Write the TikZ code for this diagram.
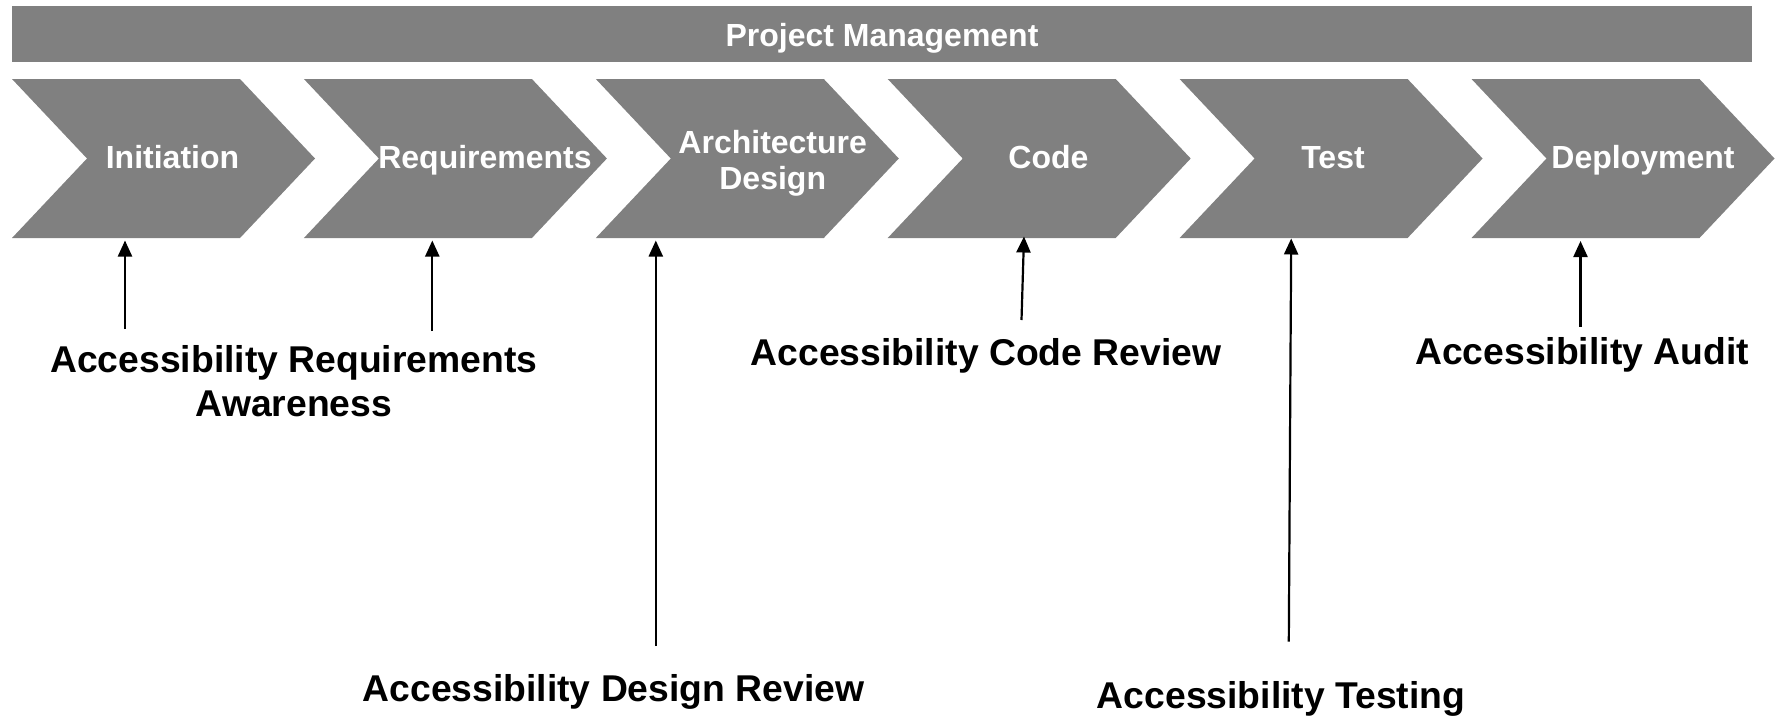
\documentclass[tikz,border=0pt]{standalone}
\usepackage{fontspec}
\setmainfont{Liberation Sans}
\usetikzlibrary{arrows.meta}
\definecolor{phasegrey}{HTML}{808080}
\begin{document}
\begin{tikzpicture}[x=1pt,y=-1pt,
  chev/.style={fill=phasegrey, draw=none},
  chevtext/.style={text=white, font=\fontsize{32}{36.3}\selectfont\bfseries, align=center, inner sep=0pt, anchor=base},
  lbl/.style={text=black, font=\fontsize{37.3}{44}\selectfont\bfseries, align=center, inner sep=0pt, anchor=base},
  pointer/.style={-{Triangle[length=16pt,width=14pt]}, line width=2.2pt, draw=black}]
\useasboundingbox (0,0) rectangle (1779,717);
% top bar
\fill[chev] (12,6) rectangle (1752,62);
\node[chevtext] (pm) at (882,46.7) {Project Management};
% chevrons
\foreach \i in {0,...,5}{
  \pgfmathsetmacro\L{12+291.9*\i}
  \fill[chev] (\L,79) -- ({\L+228},79) -- ({\L+303},158.5) -- ({\L+228},238) -- (\L,238) -- ({\L+75},158.5) -- cycle;
}
\node[chevtext] (init) at (172.5,168.3) {Initiation};
\node[chevtext] (req) at (485,168.3) {Requirements};
\node[chevtext] (arch) at (772.7,189.5) {Architecture\\Design};
\node[chevtext] (code) at (1048.4,168.3) {Code};
\node[chevtext] (test) at (1333,168.3) {Test};
\node[chevtext] (dep) at (1643,168.3) {Deployment};
% arrow ends at the chevron bottoms
\coordinate (e1) at (125,240.5);
\coordinate (e2) at (432.3,240.5);
\coordinate (e3) at (655.8,240.5);
\coordinate (e4) at (1024,236.5);
\coordinate (e5) at (1291.2,238.5);
\coordinate (e6) at (1580.5,241);
% arrow starts
\coordinate (s1) at (125,329);
\coordinate (s2) at (432.3,331);
\coordinate (s3) at (655.8,646);
\coordinate (s4) at (1021.5,320);
\coordinate (s5) at (1288.8,641.5);
\coordinate (s6) at (1580.5,326.5);
% labels
\node[lbl] (l1) at (293.9,416) {Accessibility Requirements\\Awareness};
\node[lbl] (l2) at (986,365) {Accessibility Code Review};
\node[lbl] (l3) at (1582,364.6) {Accessibility Audit};
\node[lbl] (l4) at (613.5,701.7) {Accessibility Design Review};
\node[lbl] (l5) at (1281,708) {Accessibility Testing};
% arrows
\foreach \k in {1,...,6}{\draw[pointer] (s\k) -- (e\k);}
\end{tikzpicture}
\end{document}
